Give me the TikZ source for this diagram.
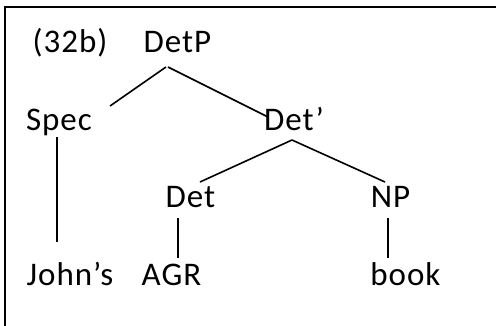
\documentclass[tikz,border=0pt]{standalone}
\usepackage{fontspec}
\setmainfont{Carlito}[LetterSpace=3]
\usetikzlibrary{calc}
\begin{document}
\begin{tikzpicture}[x=1pt,y=-1pt,
  lbl/.style={inner sep=0pt,anchor=base,font=\fontsize{33}{38}\selectfont},
  edge/.style={line width=1.6pt}]
\useasboundingbox (0,0) rectangle (496,325);
\clip (0,0) rectangle (496,325);
% frame
\draw[line width=2pt] (5,7) rectangle (520,345);
% labels
\node[lbl] (ex)    at (70,52)    {(32b)};
\node[lbl] (DetP)  at (177.5,52) {DetP};
\node[lbl] (Spec)  at (59,130)   {Spec};
\node[lbl] (Detb)  at (294,130)  {Det’};
\node[lbl] (Det)   at (190.5,207){Det};
\node[lbl] (NP)    at (390.5,207){NP};
\node[lbl] (John)  at (70,285)   {John’s};
\node[lbl] (AGR)   at (171.5,285){AGR};
\node[lbl] (book)  at (405.5,285){book};
% branches
\draw[edge] ($(DetP.base)+(-11.5,15)$) -- ($(Spec.base)+(51,-24)$);
\draw[edge] ($(DetP.base)+(-9.5,15)$) -- ($(Detb.base)+(-26,-13)$);
\draw[edge] ($(Detb.base)+(-2,10)$) -- ($(Det.base)+(9.5,-25)$);
\draw[edge] ($(Detb.base)+(-2,10)$) -- ($(NP.base)+(-5.5,-25)$);
\draw[edge] ($(Spec.base)+(-2,7)$) -- ($(John.base)+(-13,-43)$);
\draw[edge] ($(Det.base)+(-12.5,11)$) -- ($(AGR.base)+(6.5,-27)$);
\draw[edge] ($(NP.base)+(-2.5,11)$) -- ($(book.base)+(-17.5,-27)$);
\end{tikzpicture}
\end{document}
